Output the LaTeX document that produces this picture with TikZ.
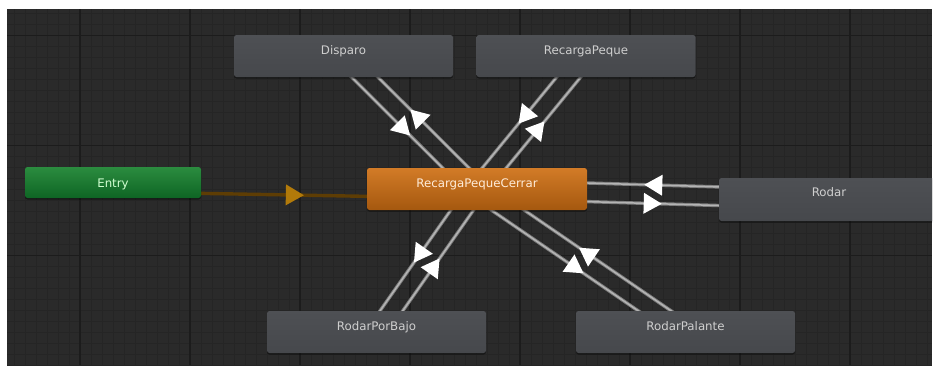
\documentclass[tikz,border=0pt]{standalone}
\usepackage{fontspec}
\setmainfont{DejaVu Sans}
\usetikzlibrary{calc,decorations.markings,shadows}

\definecolor{canvasbg}{HTML}{2A2A2A}
\definecolor{minorline}{HTML}{252525}
\definecolor{majorline}{HTML}{1C1C1C}
\definecolor{stateTop}{HTML}{4E5054}
\definecolor{stateBot}{HTML}{46484C}
\definecolor{stateText}{HTML}{CFCFCF}
\definecolor{activeTop}{HTML}{D27B27}
\definecolor{activeBot}{HTML}{A5580F}
\definecolor{entryTop}{HTML}{2B8C3F}
\definecolor{entryBot}{HTML}{0E6524}
\definecolor{linkgray}{HTML}{7C7C7C}
\definecolor{linklight}{HTML}{B4B4B4}
\definecolor{entrylink}{HTML}{5E3D04}
\definecolor{entrytip}{HTML}{B27A0A}

\pgfdeclarelayer{grid}
\pgfdeclarelayer{links}
\pgfsetlayers{grid,links,main}

\tikzset{
  statebox/.style={rectangle, rounded corners=2.5pt, inner sep=0pt,
    minimum width=219pt, minimum height=42pt,
    text height=19.5pt, text depth=22.5pt,
    font=\fontsize{11.8}{13}\selectfont, text=stateText,
    top color=stateTop, bottom color=stateBot,
    drop shadow={shadow xshift=0pt, shadow yshift=-1.5pt, fill=black, opacity=0.45}},
  activebox/.style={statebox, top color=activeTop, bottom color=activeBot, text=white!85!orange},
  entrybox/.style={statebox, minimum width=176pt, minimum height=31pt,
    text height=20.5pt, text depth=10.5pt,
    top color=entryTop, bottom color=entryBot, text=white!82!green},
  link/.style={draw=linkgray, line width=3.4pt,
    postaction={draw=linklight, line width=1.5pt},
    postaction={decorate},
    decoration={markings, mark=at position 0.5 with {\fill[white] (9,0) -- (-9,10.5) -- (-9,-10.5) -- cycle;}}},
  entrylinkstyle/.style={draw=entrylink, line width=3.4pt,
    postaction={decorate},
    decoration={markings, mark=at position 0.5 with {\fill[entrytip] (9,0) -- (-9,10.5) -- (-9,-10.5) -- cycle;}}},
}

\begin{document}
\begin{tikzpicture}[x=1pt,y=-1pt]
\useasboundingbox (0,0) rectangle (933,365);

% canvas and grid
\begin{pgfonlayer}{grid}
  \fill[white] (0,0) rectangle (933,365);
  \fill[canvasbg] (7,9) rectangle (932,365);
  \begin{scope}
    \clip (7,9) rectangle (932,365);
    \foreach \x in {3,14,...,932} \draw[minorline, line width=0.8pt] (\x,9) -- (\x,365);
    \foreach \y in {2.5,13.5,...,366} \draw[minorline, line width=0.8pt] (7,\y) -- (932,\y);
    \foreach \x in {80,190,...,932} \draw[majorline, line width=1.3pt] (\x,9) -- (\x,365);
    \foreach \y in {35.5,145.5,255.5} \draw[majorline, line width=1.3pt] (7,\y) -- (932,\y);
  \end{scope}
\end{pgfonlayer}

% states
\begin{scope}
  \clip (7,9) rectangle (932,365);
  \node[statebox] (disparo) at (343.5,56) {Disparo};
  \node[statebox] (recarga) at (586,56) {RecargaPeque};
  \node[activebox, minimum width=220pt] (cerrar) at (477,189) {RecargaPequeCerrar};
  \node[entrybox] (entry) at (113,182.5) {Entry};
  \node[statebox, minimum width=220pt, minimum height=43pt, text height=18.5pt, text depth=24.5pt] (rodar) at (829,199.5) {Rodar};
  \node[statebox] (porbajo) at (376.5,332) {RodarPorBajo};
  \node[statebox] (palante) at (685.5,332) {RodarPalante};
\end{scope}

% transitions, each pair offset to either side of the centre line
\begin{pgfonlayer}{links}
  \begin{scope}
    \clip (7,9) rectangle (932,365);
    \draw[entrylinkstyle] ($(entry)!9.3pt!-90:(cerrar)$) -- ($(cerrar)!9.3pt!90:(entry)$);
    \foreach \a/\b in {disparo/cerrar, cerrar/disparo,
                       recarga/cerrar, cerrar/recarga,
                       rodar/cerrar, cerrar/rodar,
                       porbajo/cerrar, cerrar/porbajo,
                       palante/cerrar, cerrar/palante}
      \draw[link] ($(\a)!9.3pt!-90:(\b)$) -- ($(\b)!9.3pt!90:(\a)$);
  \end{scope}
\end{pgfonlayer}
\end{tikzpicture}
\end{document}
